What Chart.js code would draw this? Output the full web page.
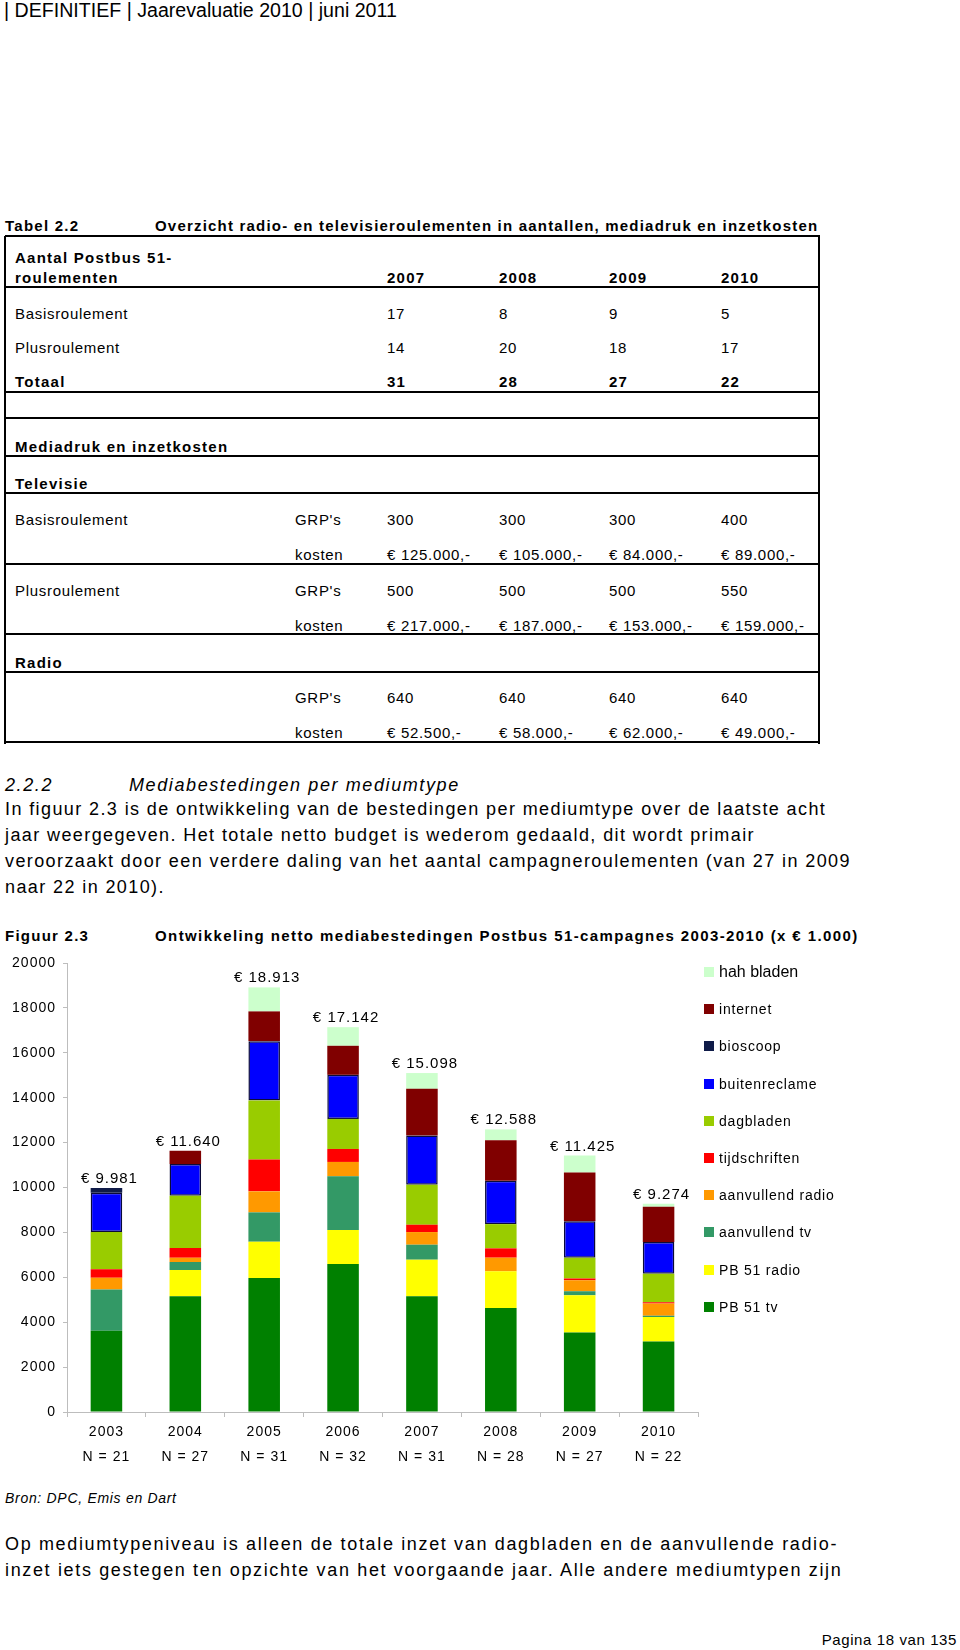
<!DOCTYPE html>
<html lang="nl">
<head>
<meta charset="utf-8">
<title>Figuur 2.3 - netto mediabestedingen</title>
<script src="https://cdn.jsdelivr.net/npm/chart.js@4.4.1/dist/chart.umd.min.js"></script>
<style>
  html, body { margin: 0; padding: 0; background: #fff; }
  body {
    width: 960px; height: 1650px; position: relative; overflow: hidden;
    font-family: "Liberation Sans", Arial, sans-serif; color: #000;
  }
  .t { position: absolute; white-space: nowrap; height: 20px; line-height: 20px; }
  .kop { font-family: "Liberation Sans Narrow", "Liberation Sans", sans-serif; font-size: 19.6px; }
  .tab { font-size: 15px; letter-spacing: 0.7px; }
  .b { font-weight: bold; letter-spacing: 1.25px; }
  .tekst { font-size: 18px; letter-spacing: 1.4px; height: 26px; line-height: 26px; }
  .lijn { position: absolute; left: 5px; width: 815px; height: 2px; background: #000; }
  .zijde { position: absolute; top: 236px; width: 2px; height: 508px; background: #000; }
  #grafiek { position: absolute; left: 0; top: 940px; }
  .leg { position: absolute; left: 704px; height: 20px; line-height: 20px; white-space: nowrap;
         font-size: 14px; letter-spacing: 0.8px; }
  .leg span { position: absolute; left: 0; top: 5px; width: 10px; height: 10px; }
  .leg b { position: absolute; left: 15px; top: 0; font-weight: normal; }
</style>
</head>
<body>

<div class="t kop" style="top:0px;left:4px">| DEFINITIEF | Jaarevaluatie 2010 | juni 2011</div>

<div class="t tab b" style="top:216px;left:5px">Tabel 2.2</div>
<div class="t tab b" style="top:216px;left:155px;letter-spacing:1.2px">Overzicht radio- en televisieroulementen in aantallen, mediadruk en inzetkosten</div>
<div id="tabel"></div>

<div class="t tekst" style="top:772px;left:5px;font-style:italic;letter-spacing:1.6px">2.2.2</div>
<div class="t tekst" style="top:772px;left:129px;font-style:italic;letter-spacing:1.6px">Mediabestedingen per mediumtype</div>
<div class="t tekst" style="top:796px;left:5px">In figuur 2.3 is de ontwikkeling van de bestedingen per mediumtype over de laatste acht</div>
<div class="t tekst" style="top:822px;left:5px">jaar weergegeven. Het totale netto budget is wederom gedaald, dit wordt primair</div>
<div class="t tekst" style="top:848px;left:5px">veroorzaakt door een verdere daling van het aantal campagneroulementen (van 27 in 2009</div>
<div class="t tekst" style="top:874px;left:5px">naar 22 in 2010).</div>

<div class="t tab b" style="top:926px;left:5px">Figuur 2.3</div>
<div class="t tab b" style="top:926px;left:155px;letter-spacing:1.4px">Ontwikkeling netto mediabestedingen Postbus 51-campagnes 2003-2010 (x € 1.000)</div>

<canvas id="grafiek" width="705" height="540"></canvas>
<div id="legenda"></div>

<div class="t tab" style="top:1488px;left:5px;font-style:italic;font-size:14px">Bron: DPC, Emis en Dart</div>
<div class="t tekst" style="top:1531px;left:5px;letter-spacing:1.65px">Op mediumtypeniveau is alleen de totale inzet van dagbladen en de aanvullende radio-</div>
<div class="t tekst" style="top:1557px;left:5px;letter-spacing:1.65px">inzet iets gestegen ten opzichte van het voorgaande jaar. Alle andere mediumtypen zijn</div>
<div class="t" style="top:1630px;right:3px;font-size:15px;letter-spacing:0.6px">Pagina 18 van 135</div>

<script>
// gegevens figuur 2.3 (x € 1.000)
const jaren = ['2003', '2004', '2005', '2006', '2007', '2008', '2009', '2010'];
const aantallen = ['N = 21', 'N = 27', 'N = 31', 'N = 32', 'N = 31', 'N = 28', 'N = 27', 'N = 22'];
const totalen = [9981, 11640, 18913, 17142, 15098, 12588, 11425, 9274];

const pb51Tv = [3615, 5156, 5970, 6593, 5156, 4637, 3541, 3141];
const pb51Radio = [0, 1170, 1615, 1511, 1629, 1630, 1659, 1096];
const aanvullendTv = [1840, 355, 1307, 2394, 667, 0, 178, 45];
const aanvullendRadio = [530, 193, 937, 640, 563, 607, 489, 548];
const tijdschriften = [370, 430, 1413, 579, 327, 415, 74, 59];
const dagbladen = [1660, 2332, 2632, 1339, 1784, 1079, 933, 1274];
const buitenreclame = [1750, 1412, 2646, 1963, 2186, 1929, 1627, 1407];
const bioscoop = [216, 0, 0, 0, 0, 0, 0, 0];
const internet = [0, 592, 1324, 1293, 2082, 1810, 2167, 1569];
const hahBladen = [0, 0, 1069, 830, 704, 481, 757, 135];

// tabel 2.2
const kolX = [15, 295, 387, 499, 609, 721];
const tabelRijen = [
    [258, true, ['Aantal Postbus 51-']],
    [278, true, ['roulementen', '', '2007', '2008', '2009', '2010']],
    [314, false, ['Basisroulement', '', '17', '8', '9', '5']],
    [348, false, ['Plusroulement', '', '14', '20', '18', '17']],
    [382, true, ['Totaal', '', '31', '28', '27', '22']],
    [447, true, ['Mediadruk en inzetkosten']],
    [484, true, ['Televisie']],
    [520, false, ['Basisroulement', "GRP's", '300', '300', '300', '400']],
    [555, false, ['', 'kosten', '€ 125.000,-', '€ 105.000,-', '€ 84.000,-', '€ 89.000,-']],
    [591, false, ['Plusroulement', "GRP's", '500', '500', '500', '550']],
    [626, false, ['', 'kosten', '€ 217.000,-', '€ 187.000,-', '€ 153.000,-', '€ 159.000,-']],
    [663, true, ['Radio']],
    [698, false, ['', "GRP's", '640', '640', '640', '640']],
    [733, false, ['', 'kosten', '€ 52.500,-', '€ 58.000,-', '€ 62.000,-', '€ 49.000,-']]
];
const tabelLijnen = [236, 287, 392, 418, 456, 493, 564, 634, 672, 742];

let html = '';
tabelRijen.forEach(function (rij) {
    rij[2].forEach(function (cel, k) {
        if (cel === '') return;
        html += `<div class="t tab${rij[1] ? ' b' : ''}" style="top:${rij[0] - 10}px;left:${kolX[k]}px">${cel}</div>`;
    });
});
tabelLijnen.forEach(function (y) {
    html += `<div class="lijn" style="top:${y - 1}px"></div>`;
});
html += '<div class="zijde" style="left:4px"></div><div class="zijde" style="left:818px"></div>';
document.getElementById('tabel').innerHTML = html;

function puntjes(n) {
    return String(n).replace(/\B(?=(\d{3})+(?!\d))/g, '.');
}

const letterAfstand = {
    id: 'letterAfstand',
    beforeDraw(chart) {
        chart.ctx.letterSpacing = '1px';
    }
};

// bedragen boven de staven
const totaalLabels = {
    id: 'totaalLabels',
    afterDatasetsDraw(chart) {
        const ctx = chart.ctx;
        const x = chart.scales.x;
        const y = chart.scales.y;
        ctx.save();
        ctx.font = '15px "Liberation Sans", Arial, sans-serif';
        ctx.letterSpacing = '1px';
        ctx.fillStyle = '#000';
        ctx.textAlign = 'center';
        ctx.textBaseline = 'alphabetic';
        totalen.forEach(function (t, i) {
            ctx.fillText('€ ' + puntjes(t), x.getPixelForValue(i) + 3, y.getPixelForValue(t) - 5);
        });
        ctx.restore();
    }
};

const series = [
    ['PB 51 tv', pb51Tv, '#008000'],
    ['PB 51 radio', pb51Radio, '#FFFF00'],
    ['aanvullend tv', aanvullendTv, '#339966'],
    ['aanvullend radio', aanvullendRadio, '#FF9900'],
    ['tijdschriften', tijdschriften, '#FF0000'],
    ['dagbladen', dagbladen, '#99CC00'],
    ['buitenreclame', buitenreclame, '#0000FF'],
    ['bioscoop', bioscoop, '#0F1B48'],
    ['internet', internet, '#800000'],
    ['hah bladen', hahBladen, '#CCFFCC']
];

const datasets = series.map(function (s) {
    return {
        label: s[0],
        data: s[1],
        backgroundColor: s[2],
        borderColor: s[0] === 'buitenreclame' ? '#0a0a3a' : s[2],
        borderWidth: s[0] === 'buitenreclame' ? 1.5 : 0,
        borderSkipped: false,
        barPercentage: 0.4,
        categoryPercentage: 1.0
    };
});

const asKleur = '#bdbdbd';
const letter = { family: '"Liberation Sans", Arial, sans-serif', size: 14 };

const grafiek = new Chart(document.getElementById('grafiek'), {
    type: 'bar',
    data: {
        labels: jaren.map(function (j, i) { return [j, aantallen[i]]; }),
        datasets: datasets
    },
    options: {
        responsive: false,
        animation: false,
        layout: { padding: { top: 23, right: 7, left: 0, bottom: 0 } },
        plugins: {
            legend: { display: false },
            tooltip: { enabled: false }
        },
        scales: {
            x: {
                stacked: true,
                grid: { drawOnChartArea: false, tickLength: 5, color: asKleur, offset: true },
                border: { color: asKleur, width: 1 },
                ticks: {
                    color: '#000', padding: 3, maxRotation: 0, autoSkip: false,
                    font: { family: letter.family, size: 14, lineHeight: 25 / 14 }
                },
                afterFit: function (scale) { scale.height = 68; }
            },
            y: {
                stacked: true,
                min: 0,
                max: 20000,
                grid: { drawOnChartArea: false, tickLength: 4, color: asKleur },
                border: { color: asKleur, width: 1 },
                ticks: {
                    stepSize: 2000, color: '#000', padding: 7, font: letter,
                    callback: function (v) { return String(v); }
                },
                afterFit: function (scale) { scale.width = 67; }
            }
        }
    },
    plugins: [letterAfstand, totaalLabels]
});

// legenda rechts, bovenste serie eerst
let leg = '';
grafiek.data.datasets.slice().reverse().forEach(function (ds, k) {
    const midden = 972 + k * 37.2;
    const groot = ds.label === 'hah bladen' ? 'font-size:16px;letter-spacing:0;' : '';
    leg += `<div class="leg" style="top:${midden - 10}px;${groot}"><span style="background:${ds.backgroundColor}"></span><b>${ds.label}</b></div>`;
});
document.getElementById('legenda').innerHTML = leg;
</script>
</body>
</html>
